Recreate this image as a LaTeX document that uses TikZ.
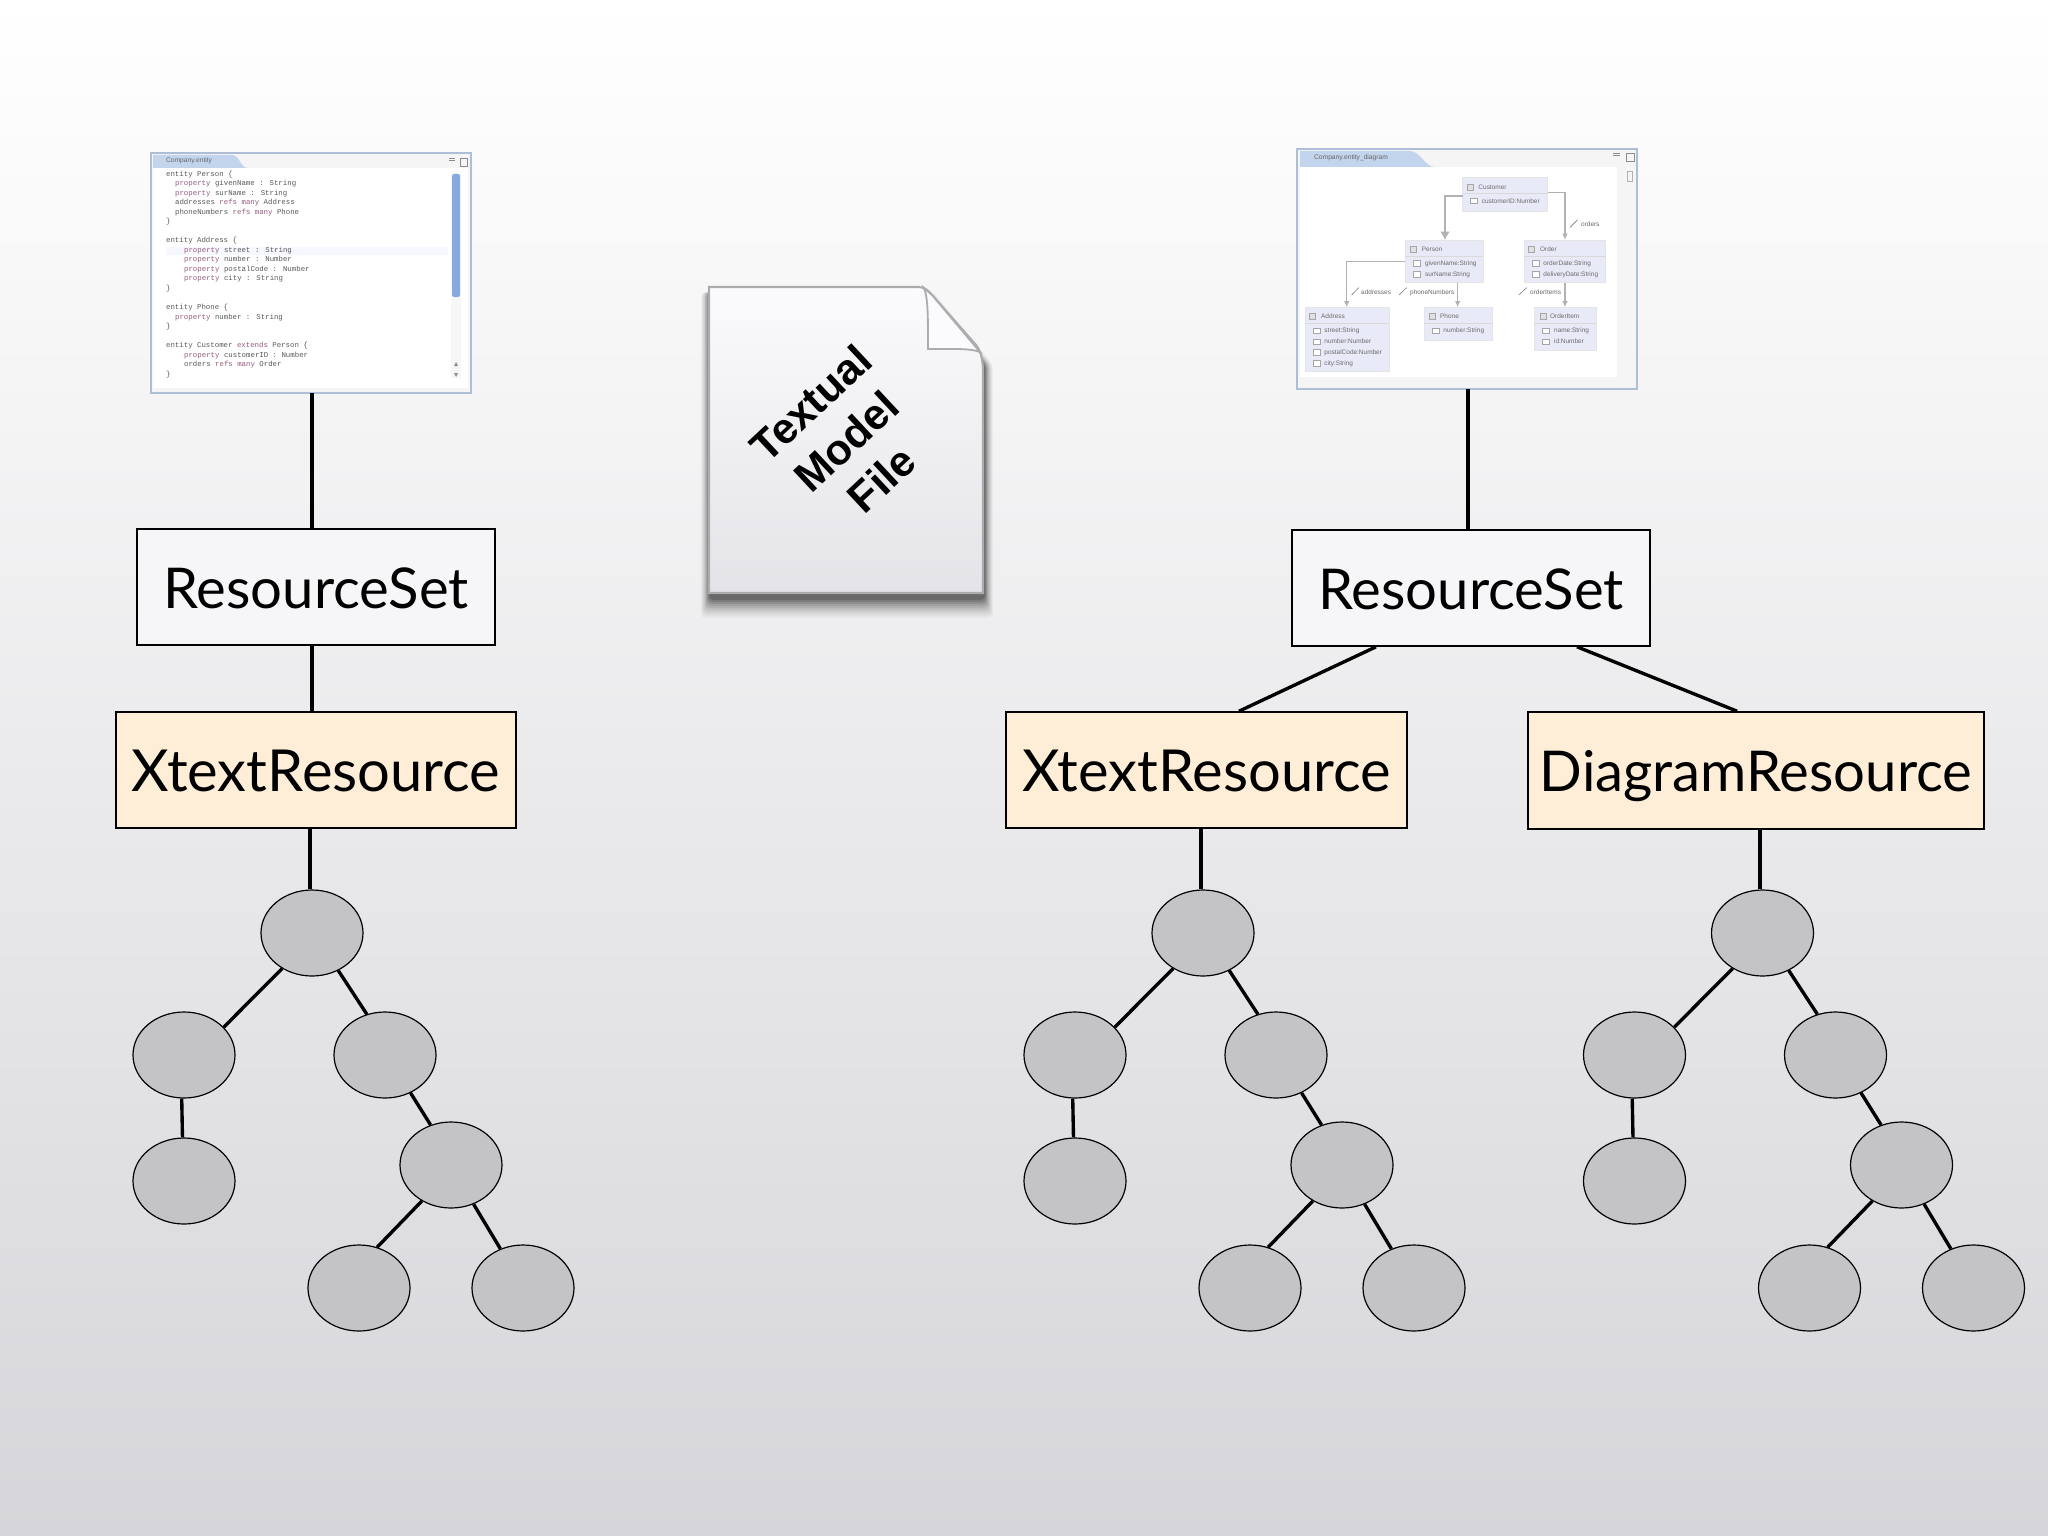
\documentclass[tikz,border=0pt]{standalone}
\usepackage{fontspec}
\setmainfont{Lato}
\newfontfamily\docfont{Liberation Sans}
\newfontfamily\codefont{Liberation Mono}
\usetikzlibrary{shapes.geometric,arrows.meta,calc}
\definecolor{bgtop}{RGB}{255,255,255}
\definecolor{bgbot}{RGB}{214,214,218}
\definecolor{kw}{RGB}{150,90,125}
\definecolor{bluebar}{RGB}{135,170,220}
\definecolor{winframe}{RGB}{175,190,215}
\definecolor{nodefill}{RGB}{232,234,248}
\definecolor{rsfill}{RGB}{246,246,249}
\definecolor{resfill}{RGB}{254,238,216}
\definecolor{treefill}{RGB}{196,196,198}
\definecolor{docedge}{RGB}{172,172,175}
\definecolor{doctop}{RGB}{251,251,253}
\definecolor{docbot}{RGB}{228,228,232}
\newcommand{\bigtext}{\fontsize{80}{84}\selectfont}
\newcommand{\xttext}{\fontsize{82.4}{84}\selectfont}
\newcommand{\kwd}[1]{\textcolor{kw}{#1}}
\tikzset{
 x=0.05cm,y=-0.05cm,
 rsbox/.style={draw=black,line width=2.3pt,fill=rsfill,minimum height={116*0.05cm},inner sep=0pt,font=\bigtext,text height=70pt,text depth=10pt},
 resbox/.style={draw=black,line width=2.3pt,fill=resfill,minimum height={116*0.05cm},inner sep=0pt,font=\bigtext,text height=70pt,text depth=10pt},
 tnode/.style={ellipse,draw=black,line width=1.7pt,fill=treefill,minimum width={102*0.05cm},minimum height={86*0.05cm},inner sep=0pt},
 link/.style={draw=black,line width=4.8pt},
 codeline/.style={anchor=west,inner sep=0pt,font=\codefont\fontsize{10.5}{11}\selectfont,text=black!65},
 dnode/.style={draw=black!10,fill=nodefill,line width=.8pt},
 dtxt/.style={anchor=west,inner sep=0pt,font=\docfont\fontsize{9.2}{10}\selectfont,text=black!58},
 dedge/.style={draw=black!30,line width=1.8pt,-{Latex[length=9pt,width=8pt]}},
 dsep/.style={draw=black!15,line width=.7pt},
 dicon/.style={draw=black!35,fill=white,line width=.6pt},
 dslash/.style={draw=black!50,line width=.9pt},
 win/.style={draw=winframe,line width=2.8pt,fill=black!4},
 tabtxt/.style={anchor=west,inner sep=0pt,font=\docfont\fontsize{9.5}{10}\selectfont,text=black!60},
}
\begin{document}
\begin{tikzpicture}
\useasboundingbox (0,0) rectangle (2048,1536);
\shade[top color=bgtop,bottom color=bgbot] (0,0) rectangle (2048,1536);

% left editor window
\path[win] (151,153) rectangle (471,393);
\fill[white] (153,168) rectangle (468,388);
\fill[bluebar!50!white] (153,155) -- (232,155) .. controls (240,155) and (240,168) .. (248,168) -- (153,168) -- cycle;
\node[tabtxt] (ltab) at (166,161) {Company.entity};
\draw[black!45,line width=.8pt] (449,158) -- (455,158) (449,160) -- (455,160);
\draw[black!45,line width=.8pt] (460,158) rectangle (467,166);
\fill[blue!3] (166,247) rectangle (448,255);
\fill[black!3] (451,172) rectangle (461,378);
\fill[bluebar,rounded corners=3pt] (452,174) rectangle (460,297);
\fill[black!45] (456,362) -- (458,366) -- (454,366) -- cycle (456,377) -- (458,373) -- (454,373) -- cycle;
\node[codeline] (c1) at (166,175) {entity Person \{};
\node[codeline] (c2) at (175,184) {\kwd{property} givenName : String};
\node[codeline] (c3) at (175,194) {\kwd{property} surName : String};
\node[codeline] (c4) at (175,203) {addresses \kwd{refs many} Address};
\node[codeline] (c5) at (175,213) {phoneNumbers \kwd{refs many} Phone};
\node[codeline] (c6) at (166,222) {\}};
\node[codeline] (c7) at (166,241) {entity Address \{};
\node[codeline] (c8) at (184,251) {\kwd{property} street : String};
\node[codeline] (c9) at (184,260) {\kwd{property} number : Number};
\node[codeline] (c10) at (184,270) {\kwd{property} postalCode : Number};
\node[codeline] (c11) at (184,279) {\kwd{property} city : String};
\node[codeline] (c12) at (166,289) {\}};
\node[codeline] (c13) at (166,308) {entity Phone \{};
\node[codeline] (c14) at (175,318) {\kwd{property} number : String};
\node[codeline] (c15) at (166,327) {\}};
\node[codeline] (c16) at (166,346) {entity Customer \kwd{extends} Person \{};
\node[codeline] (c17) at (184,356) {\kwd{property} customerID : Number};
\node[codeline] (c18) at (184,365) {orders \kwd{refs many} Order};
\node[codeline] (c19) at (166,375) {\}};
\coordinate (lwin) at (312,393);

% right diagram window
\path[win] (1297,149) rectangle (1637,389);
\fill[white] (1300,167) rectangle (1617,377);
\fill[bluebar!50!white] (1300,151) -- (1410,151) .. controls (1420,151) and (1425,167) .. (1435,167) -- (1300,167) -- cycle;
\node[tabtxt] (rtab) at (1314,158) {Company.entity\_diagram};
\draw[black!45,line width=.8pt] (1613,153) -- (1620,153) (1613,155) -- (1620,155);
\draw[black!45,line width=.8pt] (1626,153) rectangle (1634,161);
\draw[black!30,line width=.8pt] (1627,171) rectangle (1632,181);
\coordinate (rwin) at (1468,389);
\begin{scope}[shift={(1280,135)},x=0.05cm/3,y=-0.05cm/3]
 \path[dnode] (548,128) rectangle (803,228);
 \path[dnode] (375,315) rectangle (610,443);
 \path[dnode] (733,315) rectangle (977,443);
 \path[dnode] (75,517) rectangle (328,710);
 \path[dnode] (433,517) rectangle (638,615);
 \path[dnode] (763,517) rectangle (948,647);
 \draw[dsep] (548,176) -- (803,176) (375,364) -- (610,364) (733,364) -- (977,364) (75,566) -- (328,566) (433,566) -- (638,566) (763,566) -- (948,566);
 \foreach \ix/\iy in {572/156,400/342,755/342,97/545,457/545,790/545}{
  \draw[dicon,fill=black!12] (\ix-9,\iy-9) rectangle (\ix+9,\iy+9);}
 \foreach \ix/\iy in {582/198,410/385,410/418,767/385,767/418,110/588,110/620,110/652,110/685,468/588,797/588,797/620}{
  \draw[dicon] (\ix-11,\iy-8) rectangle (\ix+11,\iy+8);}
 \coordinate (dcl) at (548,183);
 \coordinate (dcr) at (803,172);
 \coordinate (dpt) at (495,315);
 \coordinate (dot) at (855,315);
 \coordinate (dpl) at (375,380);
 \coordinate (dat) at (200,517);
 \coordinate (dpb) at (533,443);
 \coordinate (dpht) at (533,517);
 \coordinate (dob) at (855,443);
 \coordinate (doit) at (855,517);
 \draw[dedge,line width=2.6pt,-{Latex[length=12pt,width=14pt]}] (dcl) -| (dpt);
 \draw[dedge] (dcr) -| (dot);
 \draw[dedge] (dpl) -| (dat);
 \draw[dedge] (dpb) -- (dpht);
 \draw[dedge] (dob) -- (doit);
 \draw[dslash] (870,277) -- (892,255) (215,480) -- (236,458) (357,480) -- (380,458) (716,480) -- (740,458);
 \node[dtxt] (t1) at (595,156) {Customer};
 \node[dtxt] (t2) at (605,198) {customerID:Number};
 \node[dtxt] (t3) at (425,342) {Person};
 \node[dtxt] (t4) at (435,385) {givenName:String};
 \node[dtxt] (t5) at (435,418) {surName:String};
 \node[dtxt] (t6) at (780,342) {Order};
 \node[dtxt] (t7) at (790,385) {orderDate:String};
 \node[dtxt] (t8) at (790,418) {deliveryDate:String};
 \node[dtxt] (t9) at (123,545) {Address};
 \node[dtxt] (t10) at (133,588) {street:String};
 \node[dtxt] (t11) at (133,620) {number:Number};
 \node[dtxt] (t12) at (133,652) {postalCode:Number};
 \node[dtxt] (t13) at (133,685) {city:String};
 \node[dtxt] (t14) at (480,545) {Phone};
 \node[dtxt] (t15) at (490,588) {number:String};
 \node[dtxt] (t16) at (810,545) {OrderItem};
 \node[dtxt] (t17) at (822,588) {name:String};
 \node[dtxt] (t18) at (822,620) {id:Number};
 \node[dtxt] (t19) at (903,268) {orders};
 \node[dtxt] (t20) at (243,472) {addresses};
 \node[dtxt] (t21) at (390,472) {phoneNumbers};
 \node[dtxt] (t22) at (750,472) {orderItems};
\end{scope}

% document icon: shadow, sheet, fold
\foreach \e/\op in {18/.03,16/.03,14/.04,12/.05,10/.06,8/.07,6/.09,4/.1,2/.12,0/.16}{
 \fill[black,opacity=\op,rounded corners=6pt]
  ({709-\e*.45},292) -- ({925+\e*.45},292) -- ({985+\e*.45},365) -- ({985+\e*.45},{600+\e}) -- ({709-\e*.45},{600+\e}) -- cycle;
}
\path[draw=docedge,line width=3pt,top color=doctop,bottom color=docbot]
 (709,287) -- (918,287) .. controls (924,287) and (928,290) .. (932,295) -- (976,345)
 .. controls (980,350) and (983,358) .. (983,372) -- (983,593) -- (709,593) -- cycle;
\path[draw=docedge,line width=2.6pt,fill=doctop] (924,288) .. controls (928,298) and (928,315) .. (928,349)
 -- (955,349) .. controls (966,349) and (975,350) .. (980,352) -- (932,295) -- cycle;
\node[align=center,rotate=43,inner sep=0pt,font=\docfont\bfseries\fontsize{61}{74}\selectfont] (doc) at (846,441) {Textual\\Model\\File};

% boxes
\node[rsbox,minimum width={358*0.05cm}] (rs1) at (316,587) {ResourceSet};
\node[resbox,font=\xttext,minimum width={400*0.05cm}] (xt1) at (316,770) {XtextResource};
\node[rsbox,minimum width={358*0.05cm}] (rs2) at (1471,588) {ResourceSet};
\node[resbox,font=\xttext,minimum width={401*0.05cm}] (xt2) at (1206.5,770) {XtextResource};
\node[resbox,minimum width={456*0.05cm},minimum height={117*0.05cm}] (dr) at (1756,770.5) {DiagramResource};

% trees
\foreach \p/\ox in {a/0,b/891,c/1450.5}{
 \node[tnode] (\p0) at (312+\ox,933) {};
 \node[tnode] (\p1) at (184+\ox,1055) {};
 \node[tnode] (\p2) at (385+\ox,1055) {};
 \node[tnode] (\p3) at (184+\ox,1181) {};
 \node[tnode] (\p4) at (451+\ox,1165) {};
 \node[tnode] (\p5) at (359+\ox,1288) {};
 \node[tnode] (\p6) at (523+\ox,1288) {};
 \draw[link] (\p0.230) -- (\p1.35);
 \draw[link] (\p0.305) -- (\p2.114);
 \draw[link] (\p1.267) -- (\p3.92);
 \draw[link] (\p2.304) -- (\p4.117);
 \draw[link] (\p4.231) -- (\p5.66);
 \draw[link] (\p4.300) -- (\p6.120);
}

% connectors
\draw[link] (lwin) -- (lwin |- rs1.north);
\draw[link] (rs1.south -| lwin) -- (xt1.north -| lwin);
\draw[link] ([xshift={-6*0.05cm}]xt1.south) -- ([xshift={-6*0.05cm}]xt1.south |- a0.north);
\draw[link] (rwin) -- (rwin |- rs2.north);
\draw[link] ([xshift={-95*0.05cm}]rs2.south) -- ([xshift={32.5*0.05cm}]xt2.north);
\draw[link] ([xshift={106*0.05cm}]rs2.south) -- ([xshift={-19*0.05cm}]dr.north);
\draw[link] ([xshift={-5.5*0.05cm}]xt2.south) -- ([xshift={-5.5*0.05cm}]xt2.south |- b0.north);
\draw[link] ([xshift={4*0.05cm}]dr.south) -- ([xshift={4*0.05cm}]dr.south |- c0.north);
\end{tikzpicture}
\end{document}
